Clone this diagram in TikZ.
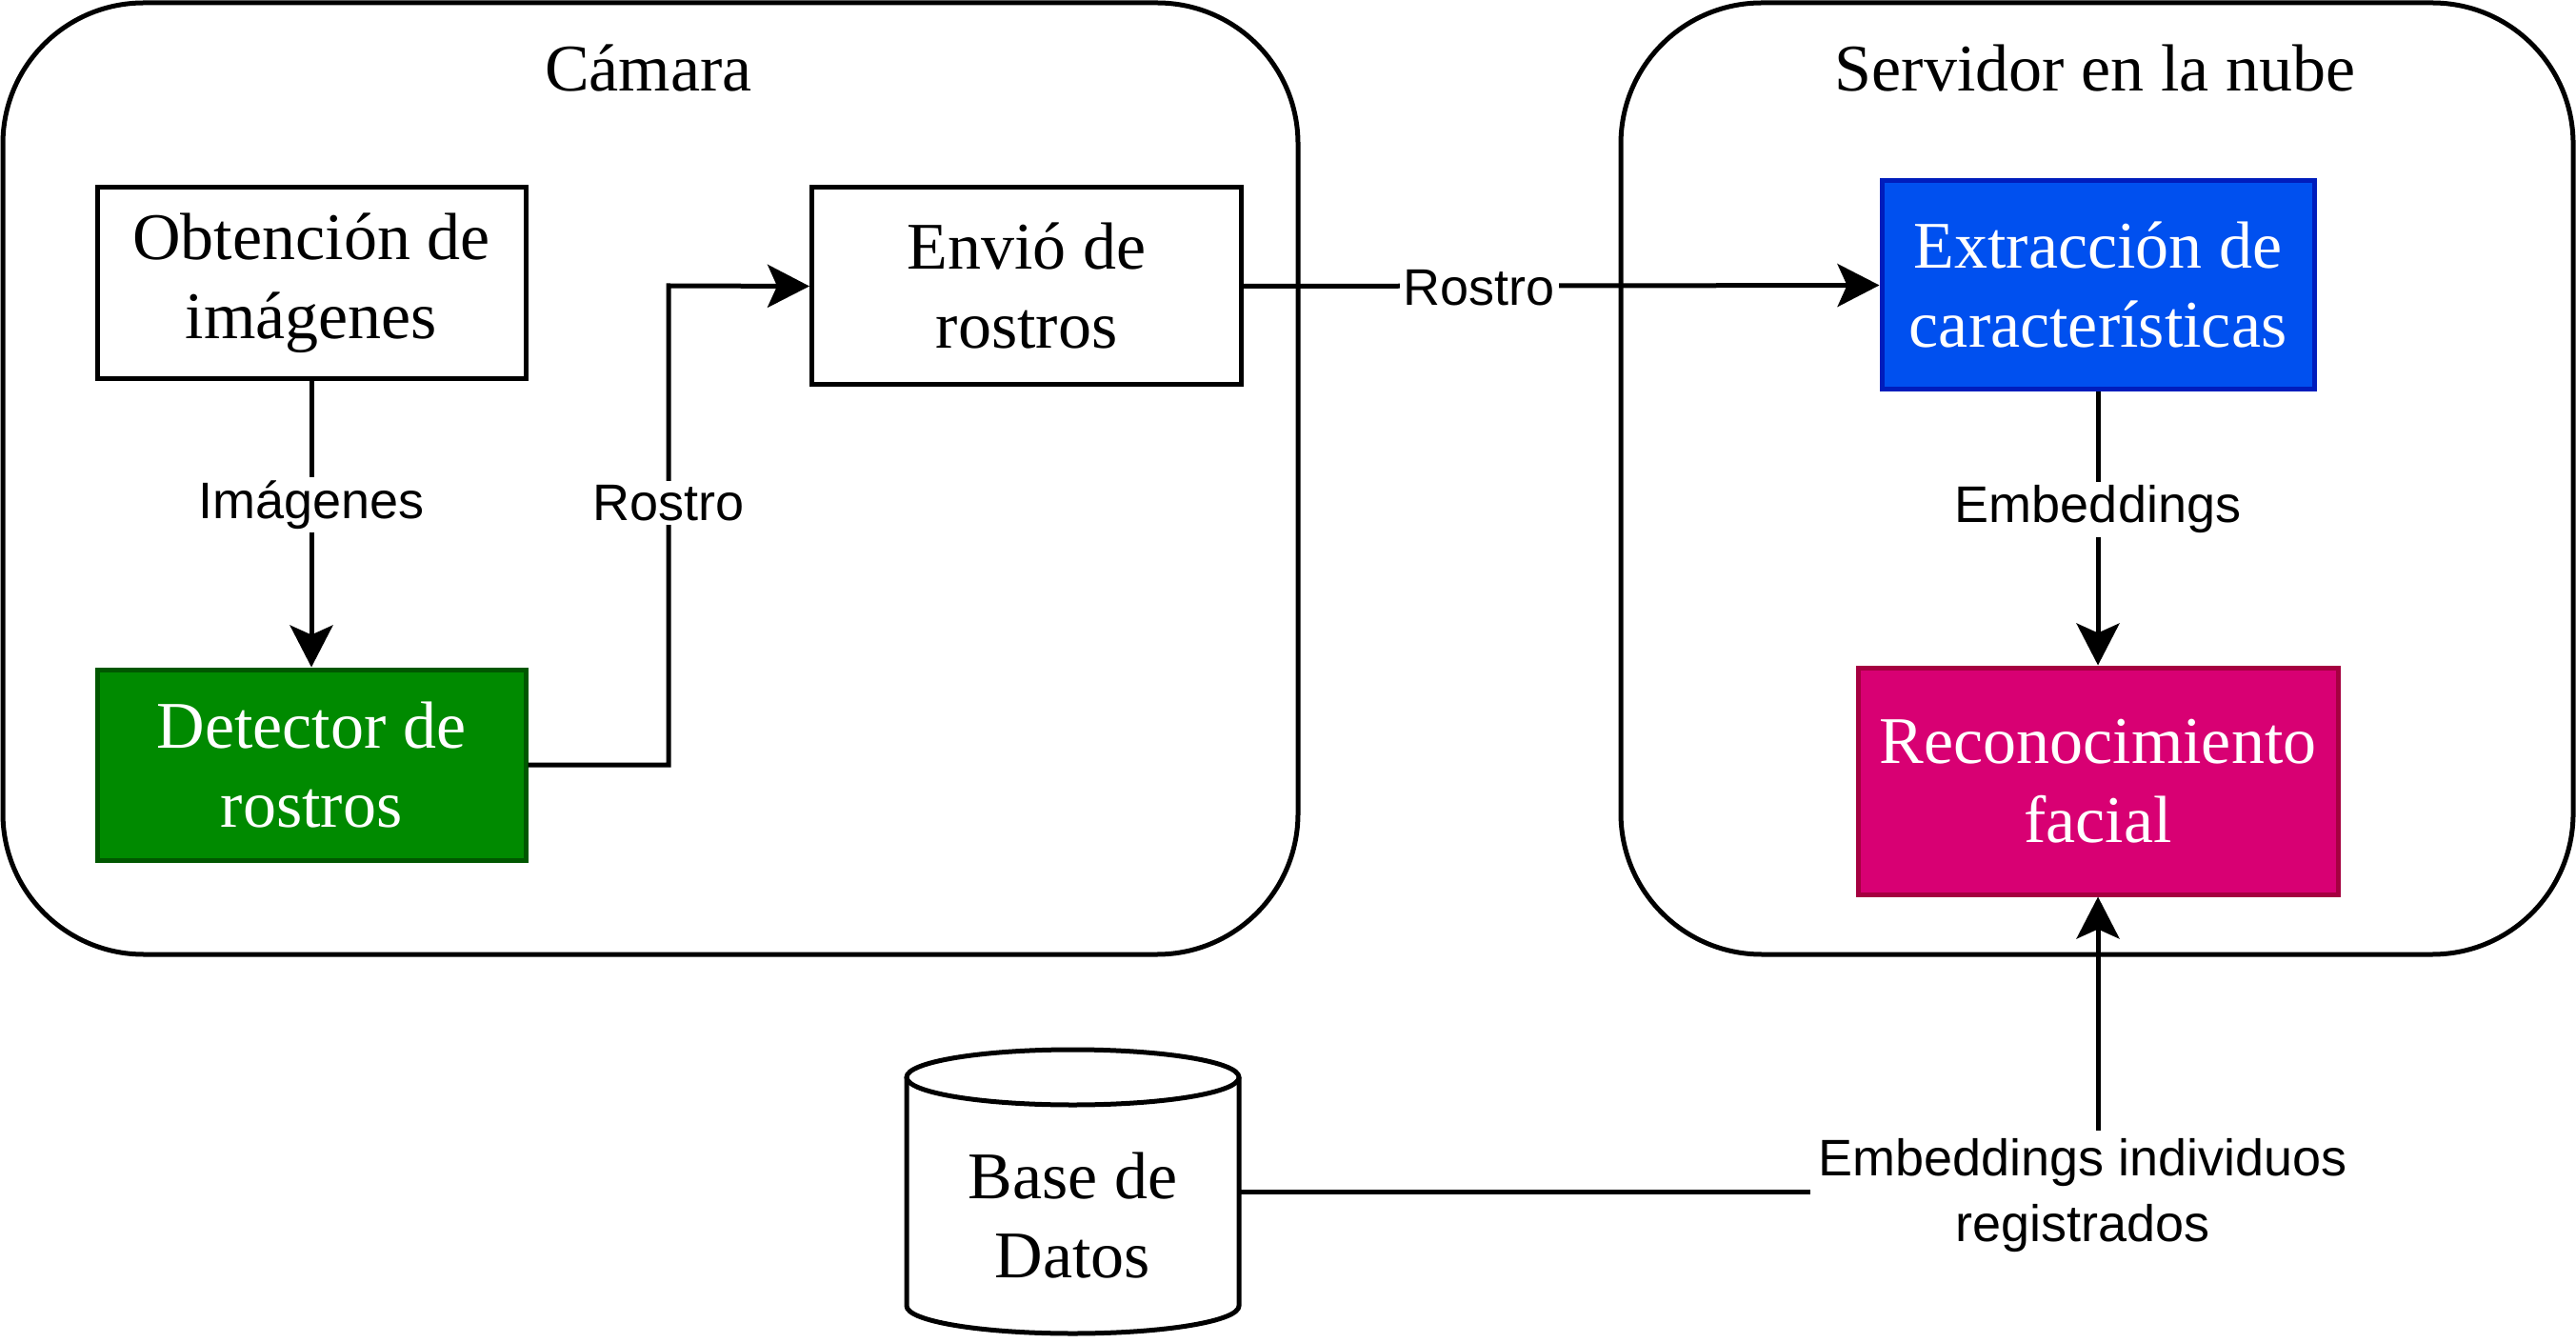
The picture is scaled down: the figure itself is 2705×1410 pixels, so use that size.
\documentclass[tikz,border=0pt]{standalone}
\usepackage{fontspec}
\setmainfont{Liberation Serif}
\newfontfamily\lsans{Liberation Sans}
\usetikzlibrary{arrows.meta}
\definecolor{gfill}{HTML}{008A00}
\definecolor{gline}{HTML}{005700}
\definecolor{bfill}{HTML}{0050EF}
\definecolor{bline}{HTML}{001DBC}
\definecolor{pfill}{HTML}{D80073}
\definecolor{pline}{HTML}{A50040}
\tikzset{
  container/.style={draw=black, line width=1.25pt, rounded corners=37pt, inner sep=0pt},
  title/.style={font=\fontsize{17.5}{20.75}\selectfont, inner sep=0pt},
  stepbox/.style={draw=black, line width=1.25pt, fill=white, align=center, inner sep=0pt,
    font=\fontsize{17.5}{20.75}\selectfont},
  greenbox/.style={stepbox, fill=gfill, draw=gline, text=white},
  bluebox/.style={stepbox, fill=bfill, draw=bline, text=white},
  pinkbox/.style={stepbox, fill=pfill, draw=pline, text=white},
  lbl/.style={fill=white, inner sep=1pt, align=center, font=\lsans\fontsize{13.5}{17.25}\selectfont},
  conn/.style={line width=1.25pt, -{Stealth[length=11pt,width=11.25pt,inset=2.5pt]}},
  plain/.style={line width=1.25pt}
}
\begin{document}
\begin{tikzpicture}[x=0.25pt,y=-0.25pt]
\useasboundingbox (0,0) rectangle (2705,1410);
\fill[white] (0,0) rectangle (2705,1410);

% containers
\node[container, minimum width=340pt, minimum height=249.75pt] (cam) at (683,502.5) {};
\node[container, minimum width=250pt, minimum height=249.75pt] (srv) at (2202,502.5) {};
\node[title] (camt) at (681,72) {Cámara};
\node[title] (srvt) at (2200,72) {Servidor en la nube};

% boxes
\node[stepbox, minimum width=112.5pt, minimum height=50.25pt] (obt) at (327,297.5) {Obtención de\\imágenes};
\node[greenbox, minimum width=112.5pt, minimum height=50pt] (det) at (327,803) {Detector de\\rostros};
\node[stepbox, minimum width=112.75pt, minimum height=51.75pt] (env) at (1078,300.5) {Envió de\\rostros};
\node[bluebox, minimum width=113.5pt, minimum height=54.75pt] (ext) at (2203,299.5) {Extracción de\\características};
\node[pinkbox, minimum width=126pt, minimum height=59.5pt] (rec) at (2203,820) {Reconocimiento\\facial};

% database cylinder
\node[inner sep=0pt, minimum width=87.25pt, minimum height=74.5pt] (db) at (1126.5,1251) {};
\draw[line width=1.25pt, fill=white] (952,1131) -- (952,1371)
  arc[start angle=180, end angle=360, x radius=43.625pt, y radius=7.25pt] -- (1301,1131);
\draw[line width=1.25pt, fill=white] (1126.5,1131) ellipse [x radius=43.625pt, y radius=7.25pt];
\node[title, align=center] (dbt) at (1126.5,1276) {Base de\\Datos};

% connectors
\draw[conn] (obt.south) -- (det.north);
\node[lbl] (l1) at (327,530) {Imágenes};

\coordinate (c1) at (702,803);
\coordinate (c2) at (702,300);
\draw[conn] (det.east) -- (c1) -- (c2) -- (env.west);
\node[lbl] (l2) at (702,528) {Rostro};

\draw[conn] (env.east) -- (ext.west);
\node[lbl] (l3) at (1553,302) {Rostro};

\draw[conn] (ext.south) -- (rec.north);
\node[lbl] (l4) at (2203,535) {Embeddings};

\coordinate (c3) at (2203,1251);
\draw[conn] (db.east) -- (c3) -- (rec.south);
\node[lbl, inner sep=2pt] (l5) at (2187,1255) {Embeddings individuos\\registrados};
\end{tikzpicture}
\end{document}
